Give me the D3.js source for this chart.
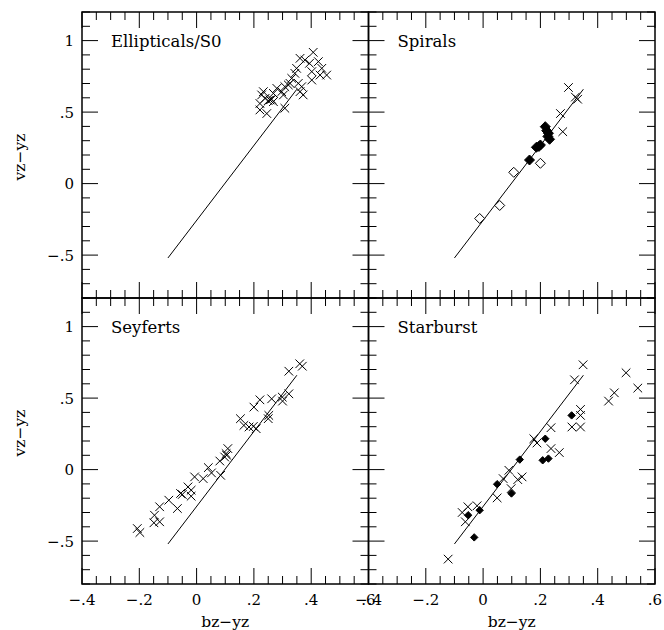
<!DOCTYPE html>
<html>
<head>
<meta charset="utf-8">
<script src="https://cdn.jsdelivr.net/npm/d3@7"></script>
<style>
  body { margin: 0; background: #fff; }
  text { font-family: "DejaVu Serif", serif; fill: #000; }
</style>
</head>
<body>
<div id="chart"></div>
<script>
// values
const xTicks = [-0.4, -0.2, 0, 0.2, 0.4, 0.6];
const yTicks = [-0.5, 0, 0.5, 1];
const panelTitles = ["Ellipticals/S0", "Spirals", "Seyferts", "Starburst"];

// reference line, same in every panel
const fitLine = [[-0.1, -0.52], [0.35, 0.66]];

const ellipticalsCross = [
  [0.221, 0.515], [0.245, 0.49], [0.221, 0.56], [0.233, 0.643], [0.227, 0.62],
  [0.239, 0.596], [0.256, 0.585], [0.262, 0.59], [0.268, 0.573], [0.25, 0.58],
  [0.268, 0.631], [0.28, 0.666], [0.297, 0.643], [0.303, 0.62], [0.308, 0.527],
  [0.308, 0.678], [0.32, 0.69], [0.326, 0.701], [0.332, 0.736], [0.343, 0.771],
  [0.349, 0.806], [0.355, 0.701], [0.367, 0.678], [0.361, 0.643], [0.372, 0.62],
  [0.361, 0.876], [0.378, 0.864], [0.394, 0.841], [0.407, 0.918], [0.402, 0.783],
  [0.425, 0.853], [0.437, 0.806], [0.431, 0.759], [0.454, 0.759], [0.402, 0.724]
];

const spiralsCross = [
  [0.298, 0.672], [0.27, 0.49], [0.278, 0.363], [0.322, 0.605], [0.33, 0.59]
];
const spiralsOpen = [
  [-0.012, -0.244], [0.058, -0.153], [0.107, 0.079], [0.2, 0.142]
];
const spiralsFilled = [
  [0.162, 0.165], [0.186, 0.254], [0.195, 0.26], [0.2, 0.27],
  [0.217, 0.398], [0.222, 0.37], [0.228, 0.352], [0.232, 0.31], [0.226, 0.33]
];

const seyfertsCross = [
  [-0.207, -0.412], [-0.198, -0.44], [-0.147, -0.319], [-0.149, -0.372], [-0.129, -0.365],
  [-0.129, -0.26], [-0.097, -0.214], [-0.067, -0.272], [-0.056, -0.167], [-0.05, -0.174],
  [-0.03, -0.121], [-0.019, -0.144], [-0.019, -0.186], [-0.007, -0.051], [0.023, -0.063],
  [0.041, 0.014], [0.052, -0.023], [0.084, -0.04], [0.081, 0.06], [0.098, 0.088],
  [0.103, 0.112], [0.109, 0.147], [0.105, 0.1], [0.153, 0.356], [0.165, 0.309],
  [0.183, 0.298], [0.198, 0.302], [0.208, 0.286], [0.2, 0.437], [0.221, 0.488],
  [0.252, 0.379], [0.25, 0.356], [0.262, 0.495], [0.299, 0.507], [0.3, 0.479],
  [0.322, 0.53], [0.322, 0.688], [0.36, 0.74], [0.369, 0.723]
];

const starburstCross = [
  [-0.122, -0.626], [-0.073, -0.3], [-0.053, -0.26], [-0.062, -0.365], [-0.021, -0.253],
  [0.049, -0.198], [0.07, -0.063], [0.09, -0.005], [0.098, -0.133], [0.121, -0.07],
  [0.136, -0.051], [0.177, 0.216], [0.188, 0.186], [0.237, 0.293], [0.237, 0.147],
  [0.266, 0.119], [0.31, 0.298], [0.34, 0.298], [0.34, 0.379], [0.34, 0.421],
  [0.319, 0.628], [0.349, 0.733], [0.438, 0.479], [0.458, 0.537], [0.499, 0.677],
  [0.54, 0.57]
];
const starburstFilled = [
  [-0.052, -0.319], [-0.012, -0.284], [-0.031, -0.474], [0.049, -0.102], [0.099, -0.167],
  [0.128, 0.07], [0.208, 0.065], [0.228, 0.077], [0.217, 0.216], [0.309, 0.379]
];

const panels = [
  { title: panelTitles[0], col: 0, row: 0, series: [{ type: "cross", data: ellipticalsCross }] },
  { title: panelTitles[1], col: 1, row: 0, series: [
      { type: "cross", data: spiralsCross },
      { type: "open", data: spiralsOpen, r: 5 },
      { type: "filled", data: spiralsFilled, r: 5 }] },
  { title: panelTitles[2], col: 0, row: 1, series: [{ type: "cross", data: seyfertsCross }] },
  { title: panelTitles[3], col: 1, row: 1, series: [
      { type: "cross", data: starburstCross },
      { type: "filled", data: starburstFilled, r: 3.7 }] }
];

const width = 664, height = 630;
const colX = [[82, 368.5], [368.5, 655]];
const rowY = [[12, 298], [298, 584]];

const fmt = (v) => {
  if (Math.abs(v) < 1e-9) return "0";
  let s = d3.format("~g")(Math.abs(v)).replace(/^0\./, ".");
  return (v < 0 ? "\u2212" : "") + s;
};

const svg = d3.select("#chart").append("svg")
  .attr("width", width)
  .attr("height", height);

const majorLen = 16, minorLen = 8;
const cross = 4.3;

panels.forEach((p) => {
  const x = d3.scaleLinear([-0.4, 0.6], colX[p.col]);
  const y = d3.scaleLinear([-0.8, 1.2], [rowY[p.row][1], rowY[p.row][0]]);
  const [x0, x1] = x.range();
  const [y1, y0] = y.range();
  const g = svg.append("g").attr("class", "panel");

  // ticks on all four sides, pointing inward
  const xMinor = d3.range(-0.4, 0.6001, 0.05);
  const yMinor = d3.range(-0.8, 1.2001, 0.1);
  const isMajorX = (v) => Math.abs(v * 5 - Math.round(v * 5)) < 1e-6;
  const isMajorY = (v) => Math.abs(v * 2 - Math.round(v * 2)) < 1e-6;

  const tk = g.append("g").attr("stroke", "#000").attr("stroke-width", 1);
  xMinor.forEach((v) => {
    const len = isMajorX(v) ? majorLen : minorLen;
    const xx = x(v);
    tk.append("line").attr("x1", xx).attr("x2", xx).attr("y1", y1).attr("y2", y1 - len);
    tk.append("line").attr("x1", xx).attr("x2", xx).attr("y1", y0).attr("y2", y0 + len);
  });
  yMinor.forEach((v) => {
    const len = isMajorY(v) ? majorLen : minorLen;
    const yy = y(v);
    tk.append("line").attr("x1", x0).attr("x2", x0 + len).attr("y1", yy).attr("y2", yy);
    tk.append("line").attr("x1", x1).attr("x2", x1 - len).attr("y1", yy).attr("y2", yy);
  });

  g.append("rect")
    .attr("x", x0).attr("y", y0)
    .attr("width", x1 - x0).attr("height", y1 - y0)
    .attr("fill", "none").attr("stroke", "#000").attr("stroke-width", 1.5);

  // tick labels only on outer edges
  if (p.col === 0) {
    g.selectAll(".ylab").data(yTicks).join("text")
      .attr("class", "ylab")
      .attr("x", x0 - 8)
      .attr("y", (d) => y(d) + 5.5)
      .attr("text-anchor", "end")
      .attr("font-size", 15)
      .text(fmt);
    g.append("text")
      .attr("transform", `translate(25,${(y0 + y1) / 2 + (p.row === 1 ? -8 : 2)}) rotate(-90)`)
      .attr("text-anchor", "middle")
      .attr("font-size", 15.5)
      .text("vz\u2212yz");
  }
  if (p.row === 1) {
    g.selectAll(".xlab").data(xTicks).join("text")
      .attr("class", "xlab")
      .attr("x", (d) => x(d))
      .attr("y", y1 + 21)
      .attr("text-anchor", "middle")
      .attr("font-size", 15)
      .text(fmt);
    g.append("text")
      .attr("x", (x0 + x1) / 2)
      .attr("y", 627)
      .attr("text-anchor", "middle")
      .attr("font-size", 15.5)
      .text("bz\u2212yz");
  }

  g.append("text")
    .attr("x", x0 + 29)
    .attr("y", y0 + 35)
    .attr("font-size", 16.5)
    .text(p.title);

  g.append("path")
    .attr("d", d3.line().x((d) => x(d[0])).y((d) => y(d[1]))(fitLine))
    .attr("fill", "none").attr("stroke", "#000").attr("stroke-width", 1);

  p.series.forEach((s) => {
    if (s.type === "cross") {
      g.append("g").selectAll("path").data(s.data).join("path")
        .attr("d", (d) => {
          const cx = x(d[0]), cy = y(d[1]);
          return `M${cx - cross},${cy - cross}L${cx + cross},${cy + cross}M${cx - cross},${cy + cross}L${cx + cross},${cy - cross}`;
        })
        .attr("stroke", "#000").attr("stroke-width", 1).attr("fill", "none");
    } else {
      const r = s.r;
      g.append("g").selectAll("path").data(s.data).join("path")
        .attr("d", (d) => {
          const cx = x(d[0]), cy = y(d[1]);
          return `M${cx},${cy - r}L${cx + r},${cy}L${cx},${cy + r}L${cx - r},${cy}Z`;
        })
        .attr("stroke", "#000").attr("stroke-width", 1)
        .attr("fill", s.type === "filled" ? "#000" : "#fff");
    }
  });
});
</script>
</body>
</html>
